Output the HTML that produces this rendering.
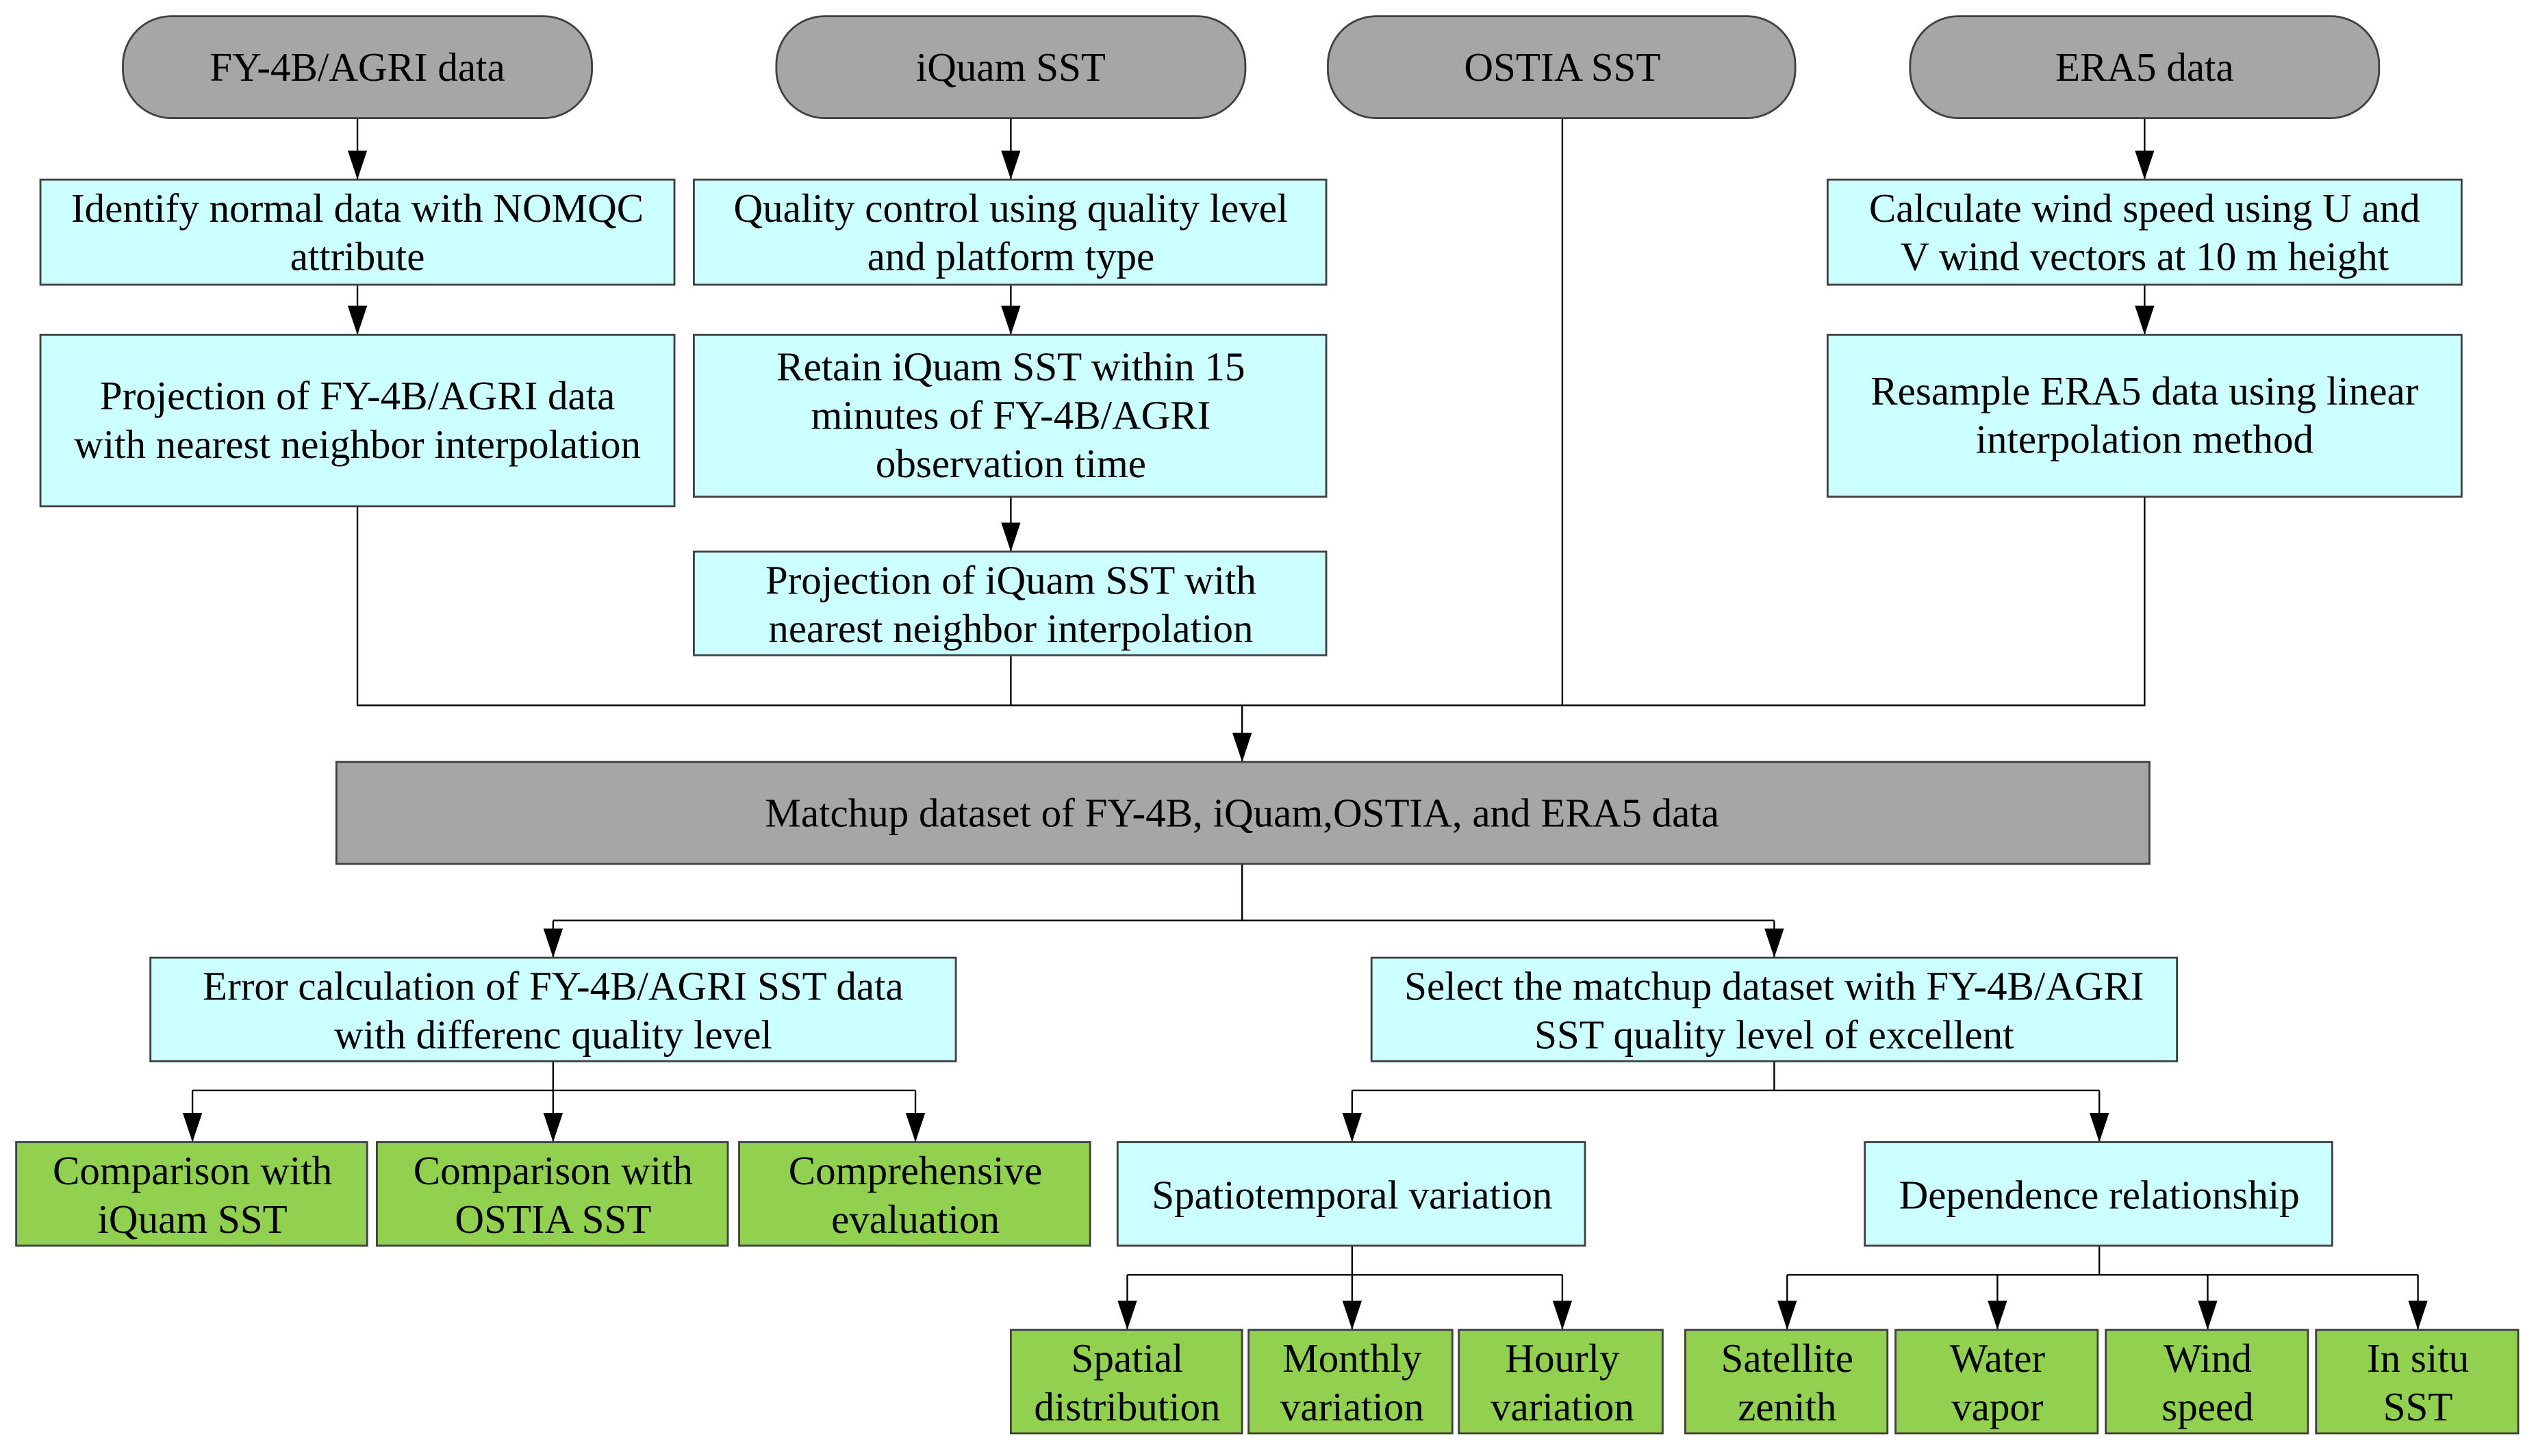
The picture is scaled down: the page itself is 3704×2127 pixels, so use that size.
<!DOCTYPE html>
<html><head><meta charset="utf-8"><style>
html,body{margin:0;padding:0;background:#fff;}
svg{display:block;}
text{font-family:"Liberation Serif",serif;font-size:25px;fill:#000;text-anchor:middle;}
</style></head><body>
<svg width="3704" height="2127" viewBox="0 0 1568 900" preserveAspectRatio="none" xmlns="http://www.w3.org/2000/svg">
<defs>
<marker id="a" markerWidth="18" markerHeight="12" refX="18" refY="6" orient="auto" markerUnits="userSpaceOnUse" viewBox="0 0 18 12">
<path d="M0,0 L18,6 L0,12 Z" fill="#000"/></marker>
</defs>
<g stroke="#000" stroke-width="1" fill="none">
<line x1="221" y1="73" x2="221" y2="111" marker-end="url(#a)"/>
<line x1="625" y1="73" x2="625" y2="111" marker-end="url(#a)"/>
<line x1="1326" y1="73" x2="1326" y2="111" marker-end="url(#a)"/>
<line x1="221" y1="176" x2="221" y2="207" marker-end="url(#a)"/>
<line x1="625" y1="176" x2="625" y2="207" marker-end="url(#a)"/>
<line x1="1326" y1="176" x2="1326" y2="207" marker-end="url(#a)"/>
<line x1="625" y1="307" x2="625" y2="341" marker-end="url(#a)"/>
<polyline points="221,313 221,436 1326,436 1326,307"/>
<line x1="625" y1="405" x2="625" y2="436"/>
<line x1="966" y1="73" x2="966" y2="436"/>
<line x1="768" y1="436" x2="768" y2="471" marker-end="url(#a)"/>
<polyline points="768,534 768,569"/>
<line x1="342" y1="569" x2="1097" y2="569"/>
<line x1="342" y1="569" x2="342" y2="592" marker-end="url(#a)"/>
<line x1="1097" y1="569" x2="1097" y2="592" marker-end="url(#a)"/>
<line x1="342" y1="656" x2="342" y2="674"/>
<line x1="119" y1="674" x2="566" y2="674"/>
<line x1="119" y1="674" x2="119" y2="706" marker-end="url(#a)"/>
<line x1="342" y1="674" x2="342" y2="706" marker-end="url(#a)"/>
<line x1="566" y1="674" x2="566" y2="706" marker-end="url(#a)"/>
<line x1="1097" y1="656" x2="1097" y2="674"/>
<line x1="836" y1="674" x2="1298" y2="674"/>
<line x1="836" y1="674" x2="836" y2="706" marker-end="url(#a)"/>
<line x1="1298" y1="674" x2="1298" y2="706" marker-end="url(#a)"/>
<line x1="836" y1="770" x2="836" y2="788"/>
<line x1="697" y1="788" x2="966" y2="788"/>
<line x1="697" y1="788" x2="697" y2="822" marker-end="url(#a)"/>
<line x1="836" y1="788" x2="836" y2="822" marker-end="url(#a)"/>
<line x1="966" y1="788" x2="966" y2="822" marker-end="url(#a)"/>
<line x1="1298" y1="770" x2="1298" y2="788"/>
<line x1="1105" y1="788" x2="1495" y2="788"/>
<line x1="1105" y1="788" x2="1105" y2="822" marker-end="url(#a)"/>
<line x1="1235" y1="788" x2="1235" y2="822" marker-end="url(#a)"/>
<line x1="1365" y1="788" x2="1365" y2="822" marker-end="url(#a)"/>
<line x1="1495" y1="788" x2="1495" y2="822" marker-end="url(#a)"/>
</g>
<g stroke="#404040" stroke-width="1.2">
<rect x="76" y="10" width="290" height="63" rx="30" fill="#a6a6a6"/>
<rect x="480" y="10" width="290" height="63" rx="30" fill="#a6a6a6"/>
<rect x="821" y="10" width="289" height="63" rx="30" fill="#a6a6a6"/>
<rect x="1181" y="10" width="290" height="63" rx="30" fill="#a6a6a6"/>
<g fill="#ccffff">
<rect x="25" y="111" width="392" height="65"/>
<rect x="25" y="207" width="392" height="106"/>
<rect x="429" y="111" width="391" height="65"/>
<rect x="429" y="207" width="391" height="100"/>
<rect x="429" y="341" width="391" height="64"/>
<rect x="1130" y="111" width="392" height="65"/>
<rect x="1130" y="207" width="392" height="100"/>
<rect x="93" y="592" width="498" height="64"/>
<rect x="848" y="592" width="498" height="64"/>
<rect x="691" y="706" width="289" height="64"/>
<rect x="1153" y="706" width="289" height="64"/>
</g>
<rect x="208" y="471" width="1121" height="63" fill="#a6a6a6"/>
<g fill="#92d050">
<rect x="10" y="706" width="217" height="64"/>
<rect x="233" y="706" width="217" height="64"/>
<rect x="457" y="706" width="217" height="64"/>
<rect x="625" y="822" width="143" height="64"/>
<rect x="772" y="822" width="126" height="64"/>
<rect x="902" y="822" width="126" height="64"/>
<rect x="1042" y="822" width="125" height="64"/>
<rect x="1172" y="822" width="125" height="64"/>
<rect x="1302" y="822" width="125" height="64"/>
<rect x="1432" y="822" width="125" height="64"/>
</g>
</g>
<text x="221" y="50">FY-4B/AGRI data</text>
<text x="625" y="50">iQuam SST</text>
<text x="966" y="50">OSTIA SST</text>
<text x="1326" y="50">ERA5 data</text>
<text x="221" y="137">Identify normal data with NOMQC</text>
<text x="221" y="167">attribute</text>
<text x="221" y="253">Projection of FY-4B/AGRI data</text>
<text x="221" y="283">with nearest neighbor interpolation</text>
<text x="625" y="137">Quality control using quality level</text>
<text x="625" y="167">and platform type</text>
<text x="625" y="235">Retain iQuam SST within 15</text>
<text x="625" y="265">minutes of FY-4B/AGRI</text>
<text x="625" y="295">observation time</text>
<text x="625" y="367">Projection of iQuam SST with</text>
<text x="625" y="397">nearest neighbor interpolation</text>
<text x="1326" y="137">Calculate wind speed using U and</text>
<text x="1326" y="167">V wind vectors at 10 m height</text>
<text x="1326" y="250">Resample ERA5 data using linear</text>
<text x="1326" y="280">interpolation method</text>
<text x="768" y="511">Matchup dataset of FY-4B, iQuam,OSTIA, and ERA5 data</text>
<text x="342" y="618">Error calculation of FY-4B/AGRI SST data</text>
<text x="342" y="648">with differenc quality level</text>
<text x="1097" y="618">Select the matchup dataset with FY-4B/AGRI</text>
<text x="1097" y="648">SST quality level of excellent</text>
<text x="119" y="732">Comparison with</text>
<text x="119" y="762">iQuam SST</text>
<text x="342" y="732">Comparison with</text>
<text x="342" y="762">OSTIA SST</text>
<text x="566" y="732">Comprehensive</text>
<text x="566" y="762">evaluation</text>
<text x="836" y="747">Spatiotemporal variation</text>
<text x="1298" y="747">Dependence relationship</text>
<text x="697" y="848">Spatial</text>
<text x="697" y="878">distribution</text>
<text x="836" y="848">Monthly</text>
<text x="836" y="878">variation</text>
<text x="966" y="848">Hourly</text>
<text x="966" y="878">variation</text>
<text x="1105" y="848">Satellite</text>
<text x="1105" y="878">zenith</text>
<text x="1235" y="848">Water</text>
<text x="1235" y="878">vapor</text>
<text x="1365" y="848">Wind</text>
<text x="1365" y="878">speed</text>
<text x="1495" y="848">In situ</text>
<text x="1495" y="878">SST</text>
</svg>
</body></html>
